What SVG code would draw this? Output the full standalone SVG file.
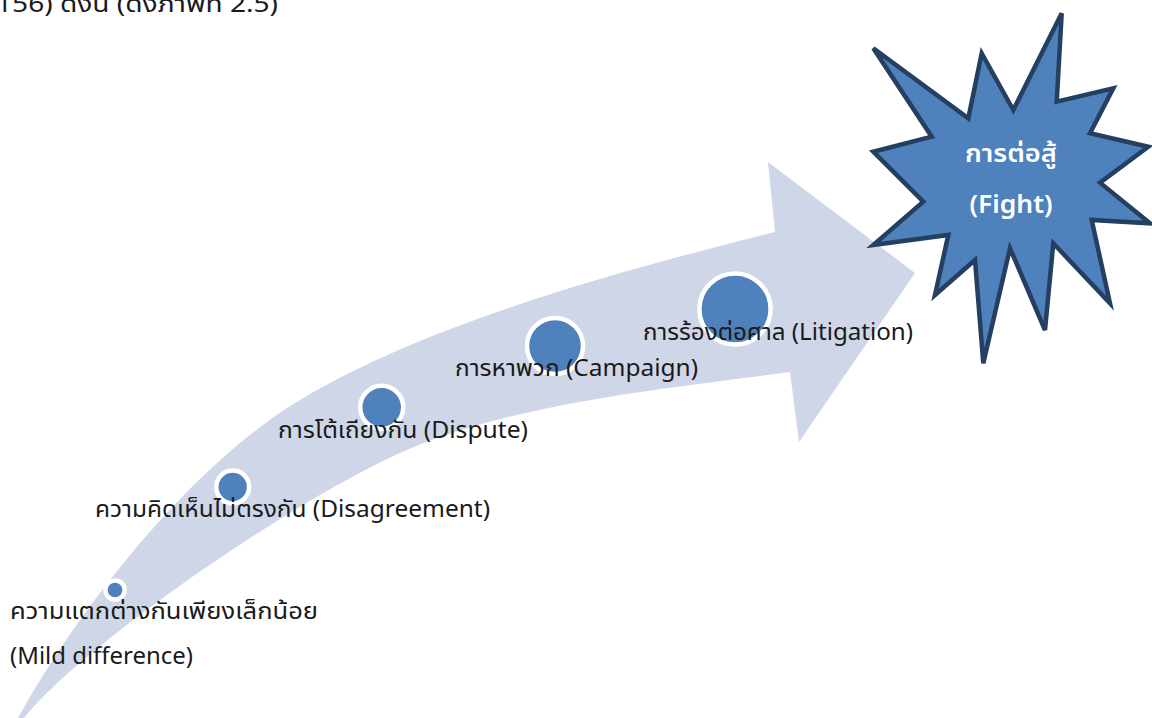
<svg xmlns="http://www.w3.org/2000/svg" width="1152" height="718" viewBox="0 0 1152 718">
<style>
.t{font-family:"Noto Sans","Noto Sans Thai","Leelawadee UI",sans-serif;font-size:23px;fill:#1a1a1a}
.dot{fill:#4F81BD;stroke:#ffffff;stroke-width:4.5}
.star{fill:#4F81BD;stroke:#243F60;stroke-width:4.5;stroke-linejoin:miter}
.st{font-family:"Noto Sans","Noto Sans Thai","Leelawadee UI",sans-serif;font-size:25px;font-weight:600;fill:#ffffff;text-anchor:middle}
</style>
<rect width="1152" height="718" fill="#ffffff"/>
<text class="t" x="-4" y="12" textLength="282" lengthAdjust="spacingAndGlyphs">156) ดังนี้ (ดังภาพที่ 2.5)</text>
<g id="connectors">
<path id="arrow" fill="#CFD6E7" d="M18,718 C88,592 200,460 300,400 C430,322 625,269.5 775,232 L768,162 L915,273 L799,442 L790,372 C660,389.4 510,403.5 400,453 C290,502.5 84,644 24,718 Z"/>
</g>
<g id="node-mild">
<circle class="dot" cx="115" cy="590" r="9.6"/>
<text class="t" x="10" y="619" textLength="308" lengthAdjust="spacingAndGlyphs">ความแตกต่างกันเพียงเล็กน้อย</text>
<text class="t" x="10" y="664" textLength="183" lengthAdjust="spacingAndGlyphs">(Mild difference)</text>
</g>
<g id="node-disagreement">
<circle class="dot" cx="232.7" cy="487" r="16.4"/>
<text class="t" x="95" y="517" textLength="395" lengthAdjust="spacingAndGlyphs">ความคิดเห็นไม่ตรงกัน (Disagreement)</text>
</g>
<g id="node-dispute">
<circle class="dot" cx="381.7" cy="407.3" r="21.5"/>
<text class="t" x="278" y="438" textLength="250" lengthAdjust="spacingAndGlyphs">การโต้เถียงกัน (Dispute)</text>
</g>
<g id="node-campaign">
<circle class="dot" cx="555" cy="346" r="28"/>
<text class="t" x="455" y="376" textLength="243" lengthAdjust="spacingAndGlyphs">การหาพวก (Campaign)</text>
</g>
<g id="node-litigation">
<circle class="dot" cx="735" cy="309" r="35.6"/>
<text class="t" x="643" y="340" textLength="270" lengthAdjust="spacingAndGlyphs">การร้องต่อศาล (Litigation)</text>
</g>
<g id="node-fight">
<polygon class="star" points="873.3,48.3 968.3,118.3 981.7,53.3 1013.3,110 1061.7,13.3 1056.7,101.7 1113.3,88.3 1090,133.3 1148.3,146.7 1100,182.7 1150,223.3 1091.7,220 1110,303.3 1053.3,243.3 1045,330 1010,248.3 983.3,363.3 975,260 935,295 948.3,235 873.3,245 923.3,201.7 873.3,151.7 931.7,136.7"/>
<text class="st" x="1011" y="162" textLength="92" lengthAdjust="spacingAndGlyphs">การต่อสู้</text>
<text class="st" x="1011" y="213" textLength="83" lengthAdjust="spacingAndGlyphs">(Fight)</text>
</g>
</svg>
